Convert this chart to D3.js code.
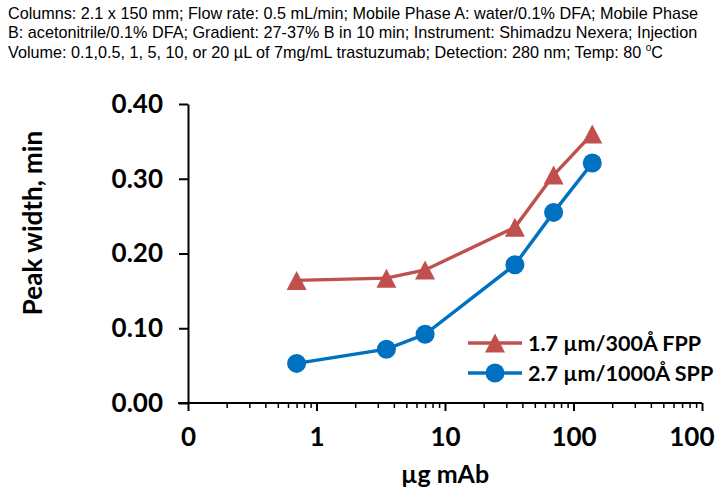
<!DOCTYPE html>
<html>
<head>
<meta charset="utf-8">
<script src="https://cdn.jsdelivr.net/npm/d3@7"></script>
<style>
  body { margin: 0; background: #fff; }
  svg { display: block; }
</style>
</head>
<body>
<svg id="chart"></svg>
<script>
// data
const massUg = [0.7, 3.5, 7, 35, 70, 140];
const fppWidth = [0.164, 0.167, 0.178, 0.235, 0.305, 0.360];
const sppWidth = [0.053, 0.072, 0.092, 0.185, 0.255, 0.321];
const seriesNames = ["1.7 µm/300Å FPP", "2.7 µm/1000Å SPP"];
const xTicks = [0.1, 1, 10, 100, 1000];
const xTickLabels = ["0", "1", "10", "100", "100"]; // last one is clipped to "100" in the original
const yTicks = [0, 0.1, 0.2, 0.3, 0.4];
const headerLines = [
    "Columns: 2.1 x 150 mm; Flow rate: 0.5 mL/min; Mobile Phase A: water/0.1% DFA; Mobile Phase",
    "B: acetonitrile/0.1% DFA; Gradient: 27-37% B in 10 min; Instrument: Shimadzu Nexera; Injection",
    "Volume: 0.1,0.5, 1, 5, 10, or 20 µL of 7mg/mL trastuzumab; Detection: 280 nm; Temp: 80 "
];

const W = 716, H = 491;
const plot = { left: 188, right: 702, top: 104, bottom: 403 };
const red = "#C0504D", blue = "#0070C0";
const boldFont = "Lato, 'Open Sans', sans-serif";

const svg = d3.select("#chart").attr("width", W).attr("height", H);

// header
const header = svg.append("g")
    .style("font-family", "'Liberation Sans', Arial, sans-serif")
    .style("font-size", "16.2px")
    .attr("fill", "#000");
headerLines.forEach((line, i) => {
    const t = header.append("text").attr("x", 8).attr("y", 18.5 + i * 19.5).text(line);
    if (i === 2) {
        t.append("tspan").attr("dy", -7).style("font-size", "10px").text("o");
        t.append("tspan").attr("dy", 7).text("C");
    }
});

const scaleX = d3.scaleLog().domain([0.1, 1000]).range([plot.left, plot.right]);
const scaleY = d3.scaleLinear().domain([0, 0.4]).range([plot.bottom, plot.top]);

// minor ticks on the log axis
const minor = [];
for (let d = 0; d < 4; d++) {
    for (let k = 2; k <= 9; k++) minor.push(k * Math.pow(10, d - 1));
}

svg.append("g")
    .attr("transform", `translate(0, ${plot.bottom})`)
    .call(d3.axisBottom(scaleX).tickValues(minor).tickSize(5).tickFormat(""))
    .call(g => g.select(".domain").remove())
    .selectAll("line").attr("stroke", "#000").attr("stroke-width", 1.5);

const axX = svg.append("g")
    .attr("transform", `translate(0, ${plot.bottom})`)
    .call(d3.axisBottom(scaleX).tickValues(xTicks).tickSize(8).tickSizeOuter(0)
        .tickFormat((d, i) => xTickLabels[i]));
axX.select(".domain").attr("stroke", "#000").attr("stroke-width", 2)
    .attr("d", `M${plot.left - 10},0H${plot.right}`);
axX.selectAll("line").attr("stroke", "#000").attr("stroke-width", 2);
axX.selectAll("text")
    .attr("y", 25)
    .attr("dy", "0.71em")
    .style("font-family", boldFont).style("font-weight", "bold").style("font-size", "26px")
    .attr("fill", "#000");
// the last label sits against the right edge in the original
axX.selectAll(".tick:last-of-type text").attr("text-anchor", "end").attr("x", 714 - plot.right);

const axY = svg.append("g")
    .attr("transform", `translate(${plot.left}, 0)`)
    .call(d3.axisLeft(scaleY).tickValues(yTicks).tickSize(9).tickSizeOuter(0)
        .tickFormat(d3.format(".2f")));
axY.select(".domain").attr("stroke", "#000").attr("stroke-width", 2);
axY.selectAll("line").attr("stroke", "#000").attr("stroke-width", 2);
axY.selectAll("text")
    .attr("x", -25)
    .style("font-family", boldFont).style("font-weight", "bold").style("font-size", "26px")
    .attr("fill", "#000");

// axis titles
svg.append("text")
    .attr("transform", "translate(42, 223) rotate(-90)")
    .attr("text-anchor", "middle")
    .style("font-family", boldFont).style("font-weight", "bold").style("font-size", "26px")
    .text("Peak width, min");

svg.append("text")
    .attr("x", scaleX(10)).attr("y", 483)
    .attr("text-anchor", "middle")
    .style("font-family", boldFont).style("font-weight", "bold").style("font-size", "25px")
    .text("µg mAb");

const triPath = (w, h) => `M0,${-h / 2}L${w / 2},${h / 2}L${-w / 2},${h / 2}Z`;

const line = (vals) => d3.line()
    .x((d, i) => scaleX(massUg[i]))
    .y(d => scaleY(d))(vals);

// FPP series
svg.append("path").attr("d", line(fppWidth))
    .attr("fill", "none").attr("stroke", red).attr("stroke-width", 3.4);
svg.selectAll(".tri").data(fppWidth).enter().append("path")
    .attr("class", "tri")
    .attr("transform", (d, i) => `translate(${scaleX(massUg[i])}, ${scaleY(d)})`)
    .attr("d", triPath(20, 19))
    .attr("fill", red);

// SPP series
svg.append("path").attr("d", line(sppWidth))
    .attr("fill", "none").attr("stroke", blue).attr("stroke-width", 3.4);
svg.selectAll(".dot").data(sppWidth).enter().append("circle")
    .attr("class", "dot")
    .attr("cx", (d, i) => scaleX(massUg[i]))
    .attr("cy", d => scaleY(d))
    .attr("r", 9.5)
    .attr("fill", blue);

// legend
const legend = svg.append("g");
const legItems = [
    { name: seriesNames[0], color: red, shape: "tri", y: 343 },
    { name: seriesNames[1], color: blue, shape: "dot", y: 373 }
];
legItems.forEach(it => {
    legend.append("line").attr("x1", 468).attr("x2", 522).attr("y1", it.y).attr("y2", it.y)
        .attr("stroke", it.color).attr("stroke-width", 3.4);
    if (it.shape === "tri") {
        legend.append("path").attr("transform", `translate(495, ${it.y})`)
            .attr("d", triPath(20, 19)).attr("fill", it.color);
    } else {
        legend.append("circle").attr("cx", 495).attr("cy", it.y).attr("r", 9.5).attr("fill", it.color);
    }
    legend.append("text").attr("x", 528).attr("y", it.y + 7.5)
        .style("font-family", boldFont).style("font-weight", "bold").style("font-size", "21.5px")
        .text(it.name);
});
</script>
</body>
</html>
